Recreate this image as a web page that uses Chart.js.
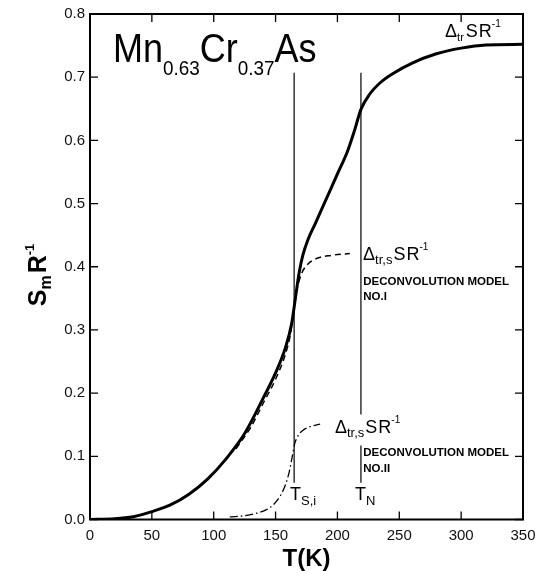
<!DOCTYPE html>
<html><head><meta charset="utf-8">
<script src="https://cdn.jsdelivr.net/npm/chart.js@4.4.0/dist/chart.umd.min.js"></script>
<style>html,body{margin:0;padding:0;background:#fff}#wrap{width:548px;height:571px;position:relative}canvas{display:block}</style>
</head><body><div id="wrap"><canvas id="c" width="548" height="571"></canvas></div>
<script>
// ---- data ----
const xTickValues = [0, 50, 100, 150, 200, 250, 300, 350];
const yTickLabels = ['0.0', '0.1', '0.2', '0.3', '0.4', '0.5', '0.6', '0.7', '0.8'];

// total transition entropy S_m R^-1 (solid)
const totalT = [0, 20, 35, 50, 65, 80, 95, 110, 125, 140, 150, 158, 163, 166, 169, 172, 176, 182, 190, 200, 208, 214, 219, 226, 235, 245, 260, 280, 300, 320, 350];
const totalS = [0, 0.0012, 0.0045, 0.0125, 0.023, 0.040, 0.064, 0.096, 0.136, 0.192, 0.232, 0.272, 0.310, 0.350, 0.390, 0.418, 0.442, 0.468, 0.503, 0.547, 0.582, 0.617, 0.649, 0.673, 0.692, 0.706, 0.722, 0.737, 0.746, 0.751, 0.752];

// deconvolution model I (dashed)
const model1T = [118, 130, 140, 150, 158, 162, 165, 167.5, 171, 176, 183, 195, 210];
const model1S = [0.112, 0.146, 0.184, 0.222, 0.262, 0.293, 0.335, 0.365, 0.389, 0.404, 0.413, 0.418, 0.421];

// deconvolution model II (dash-dot)
const model2T = [113, 125, 135, 143, 149, 154, 158, 161, 163.5, 165.5, 168, 172, 178, 186];
const model2S = [0.004, 0.006, 0.010, 0.016, 0.025, 0.038, 0.055, 0.075, 0.100, 0.120, 0.132, 0.141, 0.147, 0.151];

// transition temperature markers
const tsiT = 165;
const tnT = 219;
const tsiLineS = [0.058, 0.707];
const tnUpperS = [0.166, 0.707];
const tnLowerS = [0.058, 0.117];

// ---- chart ----
const FONT = "'Liberation Sans', Arial, Helvetica, sans-serif";
const pts = (xs, ys) => xs.map((x, i) => ({x: x, y: ys[i]}));
const vline = (t, s) => [{x: t, y: s[0]}, {x: t, y: s[1]}];

function rich(ctx, x, y, parts, opts) {
  opts = opts || {};
  const sx = opts.sx || 1;
  let w = 0;
  parts.forEach(p => { ctx.font = (p.w || '') + ' ' + p.s + 'px ' + FONT; w += ctx.measureText(p.t).width * sx + (p.gap || 0); });
  let cx = opts.center ? x - w / 2 : x;
  parts.forEach(p => {
    ctx.font = (p.w || '') + ' ' + p.s + 'px ' + FONT;
    ctx.save();
    ctx.translate(cx, y + (p.dy || 0));
    ctx.scale(sx, 1);
    ctx.fillText(p.t, 0, 0);
    ctx.restore();
    cx += ctx.measureText(p.t).width * sx + (p.gap || 0);
  });
}

const decor = {
  id: 'decor',
  afterDatasetsDraw(chart) {
    const ctx = chart.ctx, a = chart.chartArea, xs = chart.scales.x, ys = chart.scales.y;
    ctx.save();
    ctx.strokeStyle = '#000';
    ctx.fillStyle = '#000';
    // frame
    ctx.lineWidth = 2;
    ctx.strokeRect(a.left, a.top, a.right - a.left, a.bottom - a.top);
    // inward ticks
    ctx.lineWidth = 1.3;
    const tl = 8;
    ctx.beginPath();
    xTickValues.forEach(v => {
      const px = xs.getPixelForValue(v);
      ctx.moveTo(px, a.bottom); ctx.lineTo(px, a.bottom - tl);
      ctx.moveTo(px, a.top); ctx.lineTo(px, a.top + tl);
    });
    yTickLabels.forEach((l, i) => {
      const py = ys.getPixelForValue(i / 10);
      ctx.moveTo(a.left, py); ctx.lineTo(a.left + tl, py);
      ctx.moveTo(a.right, py); ctx.lineTo(a.right - tl, py);
    });
    ctx.stroke();

    ctx.textBaseline = 'alphabetic';
    ctx.textAlign = 'left';
    const X = v => xs.getPixelForValue(v), Y = v => ys.getPixelForValue(v);

    // compound name
    rich(ctx, X(18.6), Y(0.7235), [
      {t: 'Mn', s: 40}, {t: '0.63', s: 21, dy: 13}, {t: 'Cr', s: 40}, {t: '0.37', s: 21, dy: 13}, {t: 'As', s: 40}
    ], {sx: 0.9});

    // total label
    rich(ctx, X(287), Y(0.763), [
      {t: '\u0394', s: 18}, {t: 'tr', s: 11, dy: 4, gap: 2}, {t: 'S', s: 18, gap: 1}, {t: 'R', s: 18}, {t: '-1', s: 10, dy: -10}
    ]);

    // model I label
    rich(ctx, X(220.7), Y(0.411), [
      {t: '\u0394', s: 18}, {t: 'tr,s', s: 13, dy: 4, gap: 1}, {t: 'S', s: 18, gap: 1}, {t: 'R', s: 18}, {t: '-1', s: 10, dy: -10}
    ]);
    ctx.font = 'bold 11.5px ' + FONT;
    ctx.fillText('DECONVOLUTION MODEL', X(220.9), Y(0.371));
    ctx.fillText('NO.I', X(220.9), Y(0.348));

    // model II label
    rich(ctx, X(198), Y(0.137), [
      {t: '\u0394', s: 18}, {t: 'tr,s', s: 13, dy: 4, gap: 1}, {t: 'S', s: 18, gap: 1}, {t: 'R', s: 18}, {t: '-1', s: 10, dy: -10}
    ]);
    ctx.font = 'bold 11.5px ' + FONT;
    ctx.fillText('DECONVOLUTION MODEL', X(220.9), Y(0.1006));
    ctx.fillText('NO.II', X(220.9), Y(0.075));

    // temperature markers
    rich(ctx, X(161.7), Y(0.031), [{t: 'T', s: 18}, {t: 'S,i', s: 13, dy: 5}]);
    rich(ctx, X(214.2), Y(0.031), [{t: 'T', s: 18}, {t: 'N', s: 13, dy: 5}]);

    // axis titles
    rich(ctx, (a.left + a.right) / 2, 566, [{t: 'T(K)', s: 24, w: 'bold'}], {center: true});
    ctx.save();
    ctx.translate(46, 275);
    ctx.rotate(-Math.PI / 2);
    rich(ctx, 0, 0, [{t: 'S', s: 25, w: 'bold'}, {t: 'm', s: 16, w: 'bold', dy: 5, gap: 2}, {t: 'R', s: 25, w: 'bold'}, {t: '-1', s: 13, w: 'bold', dy: -12}], {center: true});
    ctx.restore();
    ctx.restore();
  }
};

const lineBase = {showLine: true, pointRadius: 0, borderColor: '#000', backgroundColor: '#000', fill: false};

new Chart(document.getElementById('c'), {
  type: 'scatter',
  data: {
    datasets: [
      Object.assign({}, lineBase, {label: 'total', data: pts(totalT, totalS), borderWidth: 3, cubicInterpolationMode: 'monotone'}),
      Object.assign({}, lineBase, {label: 'model I', data: pts(model1T, model1S), borderWidth: 1.5, borderDash: [6, 4], cubicInterpolationMode: 'monotone'}),
      Object.assign({}, lineBase, {label: 'model II', data: pts(model2T, model2S), borderWidth: 1.3, borderDash: [8, 3, 1.5, 3], cubicInterpolationMode: 'monotone'}),
      Object.assign({}, lineBase, {label: 'Ts,i', data: vline(tsiT, tsiLineS), borderWidth: 1.2, tension: 0}),
      Object.assign({}, lineBase, {label: 'TN', data: vline(tnT, tnUpperS), borderWidth: 1.2, tension: 0}),
      Object.assign({}, lineBase, {label: 'TN2', data: vline(tnT, tnLowerS), borderWidth: 1.2, tension: 0})
    ]
  },
  options: {
    responsive: false,
    animation: false,
    devicePixelRatio: 1,
    layout: {padding: {left: 0, right: 25, top: 14, bottom: 0}},
    plugins: {legend: {display: false}, tooltip: {enabled: false}},
    scales: {
      x: {
        type: 'linear', min: 0, max: 350,
        afterBuildTicks(s) { s.ticks = xTickValues.map(v => ({value: v})); },
        afterFit(s) { s.height = 51.5; },
        grid: {display: false, drawTicks: false},
        border: {display: false},
        ticks: {color: '#111', font: {size: 15, family: FONT}, padding: 7, maxRotation: 0, autoSkip: false}
      },
      y: {
        type: 'linear', min: 0, max: 0.8,
        afterBuildTicks(s) { s.ticks = yTickLabels.map((l, i) => ({value: i / 10})); },
        afterFit(s) { s.width = 90; },
        grid: {display: false, drawTicks: false},
        border: {display: false},
        ticks: {color: '#111', font: {size: 15, family: FONT}, padding: 5, autoSkip: false,
          callback: (v) => yTickLabels[Math.round(v * 10)]}
      }
    }
  },
  plugins: [decor]
});
</script></body></html>
